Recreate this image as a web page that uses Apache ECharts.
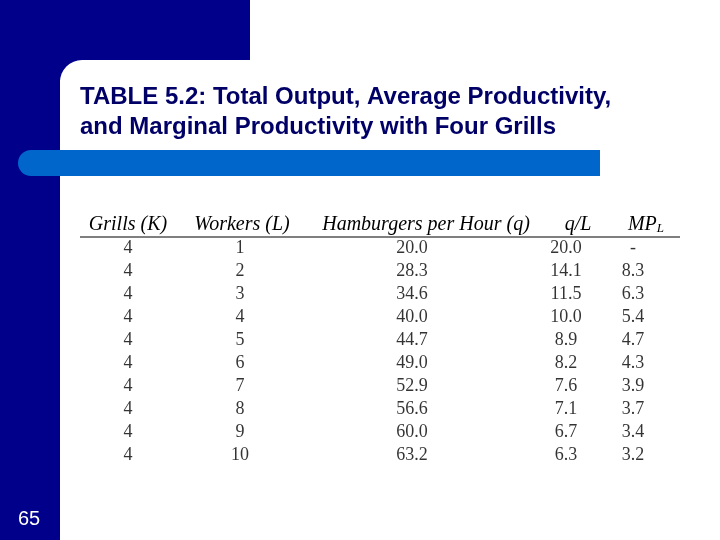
<!DOCTYPE html>
<html><head><meta charset="utf-8">
<script src="https://cdn.jsdelivr.net/npm/echarts@6/dist/echarts.min.js"></script>
<style>html,body{margin:0;padding:0;background:#fff}#c{width:720px;height:540px}</style>
</head><body><div id="c"></div>
<script>
var grills = [4,4,4,4,4,4,4,4,4,4];
var workers = [1,2,3,4,5,6,7,8,9,10];
var hamburgers = ['20.0','28.3','34.6','40.0','44.7','49.0','52.9','56.6','60.0','63.2'];
var avgProd = ['20.0','14.1','11.5','10.0','8.9','8.2','7.6','7.1','6.7','6.3'];
var margProd = ['-','8.3','6.3','5.4','4.7','4.3','3.9','3.7','3.4','3.2'];
var rows = workers.map(String);
var columns = [grills, workers, hamburgers, avgProd, margProd];
var colX = [128, 240, 412, 566, 633]; // layout positions
var navy = '#00008B';
var chart = echarts.init(document.getElementById('c'));
var series = columns.map(function(col, ci){
  return {type:'scatter', symbolSize:0, silent:true,
    data: col.map(function(v,ri){ return {value:[colX[ci], rows[ri]], label:{formatter:String(v)}}; }),
    label:{show:true, position:'inside', color:'#000', fontFamily:'Liberation Serif', fontSize:18}};
});
chart.setOption({
  animation:false,
  grid:{left:0, right:0, top:237, height:230},
  xAxis:{type:'value', min:0, max:720, show:false},
  yAxis:{type:'category', data:rows, inverse:true, show:false},
  series: series,
  graphic:[
    {type:'rect', shape:{x:0,y:0,width:60,height:540}, style:{fill:navy}, z:1},
    {type:'rect', shape:{x:0,y:0,width:250,height:80}, style:{fill:navy}, z:1},
    {type:'rect', shape:{x:60,y:60,width:660,height:480,r:[22,0,0,0]}, style:{fill:'#fff'}, z:2},
    {type:'rect', shape:{x:18,y:150,width:582,height:26,r:[13,0,0,13]}, style:{fill:'#0066CC'}, z:3},
    {type:'text', x:80, y:82, style:{text:'TABLE 5.2: Total Output, Average Productivity,\nand Marginal Productivity with Four Grills', fill:'#000066', font:'bold 24px "Liberation Sans"', lineHeight:30}, z:4},
    {type:'text', x:29, y:519, style:{text:'65', fill:'#fff', font:'20px "Liberation Sans"', align:'center', verticalAlign:'middle'}, z:4},
    {type:'line', shape:{x1:80,y1:237,x2:680,y2:237}, style:{stroke:'#000', lineWidth:1}, z:4},
    {type:'text', x:128, y:225, style:{text:'Grills (K)', font:'italic 20px "Liberation Serif"', fill:'#000', align:'center', verticalAlign:'middle'}, z:4},
    {type:'text', x:242, y:225, style:{text:'Workers (L)', font:'italic 20px "Liberation Serif"', fill:'#000', align:'center', verticalAlign:'middle'}, z:4},
    {type:'text', x:426, y:225, style:{text:'Hamburgers per Hour (q)', font:'italic 20px "Liberation Serif"', fill:'#000', align:'center', verticalAlign:'middle'}, z:4},
    {type:'text', x:578, y:225, style:{text:'q/L', font:'italic 20px "Liberation Serif"', fill:'#000', align:'center', verticalAlign:'middle'}, z:4},
    {type:'text', x:646, y:225, style:{text:'{a|MP}{b|L}', align:'center', verticalAlign:'middle',
      rich:{a:{font:'italic 20px "Liberation Serif"', fill:'#000'}, b:{font:'italic 13px "Liberation Serif"', fill:'#000', padding:[8,0,0,0]}}}, z:4}
  ]
});
</script></body></html>
